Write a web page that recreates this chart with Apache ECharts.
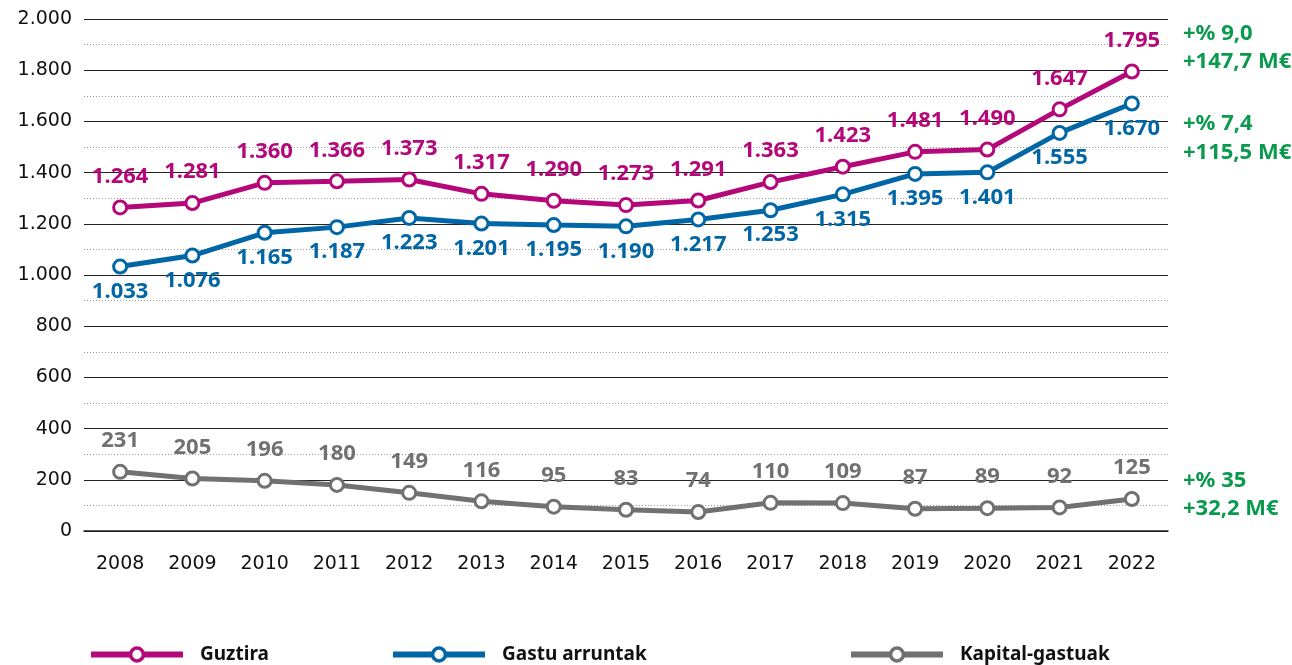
<!DOCTYPE html>
<html><head><meta charset="utf-8">
<script src="https://cdn.jsdelivr.net/npm/echarts@6/dist/echarts.min.js"></script>
<style>html,body{margin:0;padding:0;background:#fff}#c{width:1292px;height:665px}</style>
</head><body><div id="c"></div>
<script>
const years = ['2008','2009','2010','2011','2012','2013','2014','2015','2016','2017','2018','2019','2020','2021','2022'];
const guztira = [1264,1281,1360,1366,1373,1317,1290,1273,1291,1363,1423,1481,1490,1647,1795];
const arruntak = [1033,1076,1165,1187,1223,1201,1195,1190,1217,1253,1315,1395,1401,1555,1670];
const kapital = [231,205,196,180,149,116,95,83,74,110,109,87,89,92,125];
const seriesNames = ['Guztira','Gastu arruntak','Kapital-gastuak'];
const notesTotal = ['+% 9,0','+147,7 M€'];
const notesArr = ['+% 7,4','+115,5 M€'];
const notesKap = ['+% 35','+32,2 M€'];

const PINK='#B4087A', BLUE='#0066A6', GREY='#717171', GREEN='#0A9A4E';
const FONT='"Noto Sans", sans-serif';
const AXFONT='"DejaVu Sans", sans-serif';
const fmt = v => { const s = String(Math.round(v)); return s.length>3 ? s.slice(0,s.length-3)+'.'+s.slice(-3) : s; };

function mk(name, data, color, pos, dist){
  return {
    name, type:'line', data, color,
    symbol:'circle', symbolSize:13,
    lineStyle:{width:5,color},
    itemStyle:{color:'#fff',borderColor:color,borderWidth:3},
    label:{show:true,position:pos,distance:dist,color,fontFamily:FONT,fontWeight:'bold',fontSize:22,
      formatter:p=>fmt(p.value)},
    emphasis:{disabled:true}, animation:false
  };
}
const chart = echarts.init(document.getElementById('c'));
const legendBase = {itemWidth:92,itemHeight:16,top:645,padding:0,
  textStyle:{fontFamily:FONT,fontWeight:'bold',fontSize:19,color:'#111',padding:[0,0,0,12]},
  lineStyle:{width:6},itemStyle:{borderWidth:3.5}};
const noteText = (t,x,y)=>({type:'text',left:x,top:y,style:{text:t,fill:GREEN,font:'bold 22px '+FONT}});
chart.setOption({
  animation:false,
  grid:{left:84,right:124,top:19,bottom:134},
  legend:[
    Object.assign({},legendBase,{left:88,data:[seriesNames[0]]}),
    Object.assign({},legendBase,{left:390,data:[seriesNames[1]]}),
    Object.assign({},legendBase,{left:848,data:[seriesNames[2]]})
  ],
  xAxis:{type:'category',data:years,boundaryGap:true,
    axisLine:{lineStyle:{color:'#222',width:1.5}},
    axisTick:{alignWithLabel:true,length:14,lineStyle:{color:'#222',width:1.5}},
    axisLabel:{margin:24,color:'#111',fontFamily:AXFONT,fontSize:19}},
  yAxis:{type:'value',min:0,max:2000,interval:200,
    axisLine:{show:false},axisTick:{show:false},
    axisLabel:{margin:12,color:'#111',fontFamily:AXFONT,fontSize:19,formatter:fmt},
    splitLine:{lineStyle:{color:'#222',width:1.2}},
    minorTick:{show:false,splitNumber:2},
    minorSplitLine:{show:true,lineStyle:{color:'#999',type:[1,2],width:1}}},
  series:[
    mk(seriesNames[0],guztira,PINK,'top',12),
    mk(seriesNames[1],arruntak,BLUE,'bottom',6),
    mk(seriesNames[2],kapital,GREY,'top',12)
  ],
  graphic:[
    noteText(notesTotal[0],1183,23), noteText(notesTotal[1],1183,51),
    noteText(notesArr[0],1183,113), noteText(notesArr[1],1183,142),
    noteText(notesKap[0],1183,470), noteText(notesKap[1],1183,498)
  ]
});
</script></body></html>
